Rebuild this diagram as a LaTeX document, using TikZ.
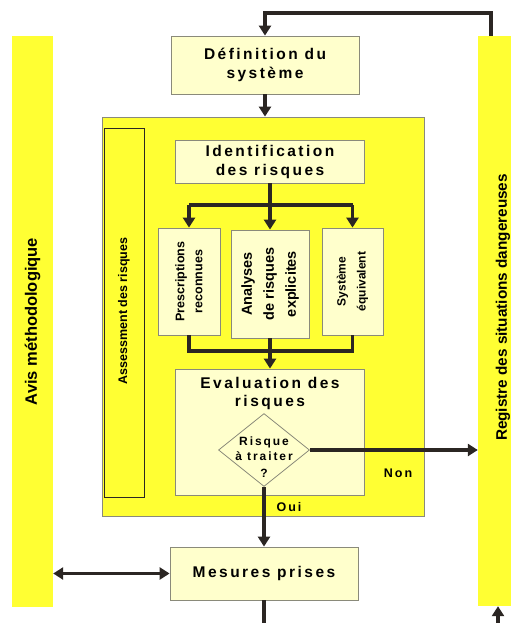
\documentclass[tikz,border=0pt]{standalone}
\usepackage{fontspec}
\setmainfont{Liberation Sans}
\newfontfamily\espace[LetterSpace=16]{Liberation Sans}
\usetikzlibrary{arrows.meta, shapes.geometric}

\definecolor{jaune}{HTML}{FFFF33}
\definecolor{pale}{HTML}{FFFFCC}
\definecolor{cadre}{HTML}{8A8A7A}
\definecolor{trait}{HTML}{2B2623}

\tikzset{
  bande/.style={fill=jaune, draw=none, inner sep=0pt},
  boite/.style={draw=cadre, fill=pale, line width=0.8pt, inner sep=0pt, align=center,
    font=\fontsize{15.5}{19}\selectfont\bfseries\espace},
  vertical/.style={rotate=90, align=center, inner sep=0pt},
  pointe/.style={-{Triangle[length=10pt,width=12pt]}},
  ligne/.style={draw=trait, line width=3.4pt},
  fleche/.style={ligne, pointe},
}

\begin{document}
\begin{tikzpicture}[x=1pt, y=-1pt]
  \useasboundingbox (0,0) rectangle (511,623);

  % bandes laterales
  \node[bande, minimum width=41, minimum height=571] (avis) at (32.5,321.5) {};
  \node[vertical, font=\fontsize{16.5}{18}\selectfont\bfseries] at (avis) {Avis méthodologique};
  \node[bande, minimum width=33, minimum height=570] (registre) at (494.5,321) {};
  \node[vertical, font=\fontsize{15.3}{16}\selectfont\bfseries] at (503,307.5)
    {Registre des situations dangereuses};

  % cadre de l'assessment
  \node[bande, draw=cadre, line width=0.8pt, minimum width=322, minimum height=399] (cadre) at (263,316.5) {};
  \node[bande, draw=trait, line width=0.8pt, minimum width=40, minimum height=369] (assess) at (124,312.5) {};
  \node[vertical, font=\fontsize{12.5}{13}\selectfont\bfseries] at (124,311) {Assessment des risques};

  % boites
  \node[boite, minimum width=188, minimum height=58] (def) at (265,65) {Définition du\\système};
  \node[boite, minimum width=189, minimum height=43] (ident) at (270,161.5) {Identification\\des risques};
  \node[boite, minimum width=62, minimum height=107] (presc) at (189,281.5) {};
  \node[vertical, font=\fontsize{12.5}{18}\selectfont\bfseries] at (presc) {Prescriptions\\reconnues};
  \node[boite, minimum width=78, minimum height=108] (analyse) at (270,284) {};
  \node[vertical, font=\fontsize{14.5}{22}\selectfont\bfseries] at (analyse) {Analyses\\de risques\\explicites};
  \node[boite, minimum width=61, minimum height=107] (equiv) at (352.5,281.5) {};
  \node[vertical, font=\fontsize{12}{20}\selectfont\bfseries] at (equiv) {Système\\équivalent};
  \node[boite, minimum width=189, minimum height=126] (eval) at (270,432) {};
  \node[align=center, font=\fontsize{15.5}{18}\selectfont\bfseries\espace] at (270,393) {Evaluation des\\risques};
  \node[boite, diamond, minimum width=91, minimum height=73] (risque) at (264,450) {};
  \node[align=center, font=\fontsize{12}{15}\selectfont\bfseries\espace] at (264,457)
    {Risque\\à traiter\\[2pt]?};
  \node[boite, minimum width=188, minimum height=53] (mesures) at (264,573.5) {Mesures prises};

  % liaisons
  \coordinate (retour) at (491,13);
  \coordinate (branche) at (270,205);
  \coordinate (fusion) at (270,351);
  \coordinate (bas) at (264,623);
  \coordinate (entree) at (498,623);
  \draw[fleche] (registre.north -| retour) -- (retour) -- (retour -| def.north) -- (def.north);
  \draw[fleche] (def.south) -- (def.south |- cadre.north);
  \draw[fleche] (ident.south) -- (analyse.north);
  \draw[ligne] (branche -| presc.north) -- (branche -| equiv.north);
  \draw[fleche] (branche -| presc.north) -- (presc.north);
  \draw[fleche] (branche -| equiv.north) -- (equiv.north);
  \draw[ligne] (presc.south) -- (fusion -| presc.south) -- (fusion -| equiv.south) -- (equiv.south);
  \draw[fleche] (analyse.south) -- (eval.north);
  \draw[fleche] (risque.east) -- (registre.west |- risque.east);
  \draw[fleche] (risque.south) -- (mesures.north);
  \draw[ligne, {Triangle[length=10pt,width=12pt]}-{Triangle[length=10pt,width=12pt]}]
    (avis.east |- mesures.west) -- (mesures.west);
  \draw[ligne] (mesures.south) -- (bas);
  \draw[fleche] (entree) -- (registre.south -| entree);

  % etiquettes
  \node[font=\fontsize{12.5}{15}\selectfont\bfseries\espace] (non) at (398,473) {Non};
  \node[font=\fontsize{12.5}{15}\selectfont\bfseries\espace] (oui) at (289,507) {Oui};
\end{tikzpicture}
\end{document}
